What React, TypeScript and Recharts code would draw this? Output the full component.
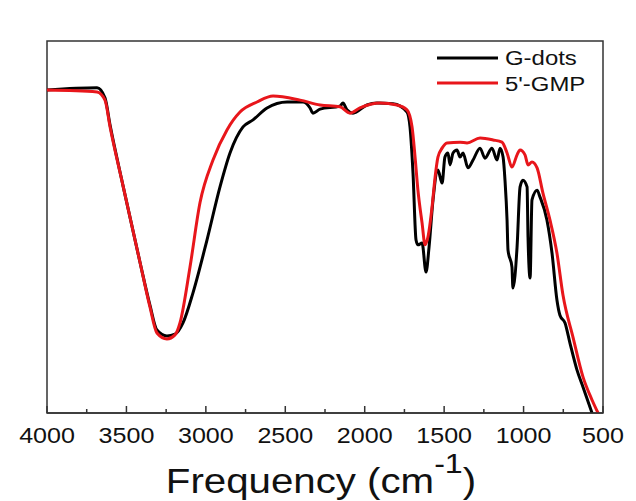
import { LineChart, Line, XAxis, YAxis, Legend, ReferenceArea } from 'recharts'

const FONT = '"Liberation Sans", Arial, Helvetica, sans-serif'

// wavenumber (cm-1) and transmittance (a.u.)
const gdotsFreq = [4000, 3685, 3635, 3603, 3522, 3415, 3352, 3308, 3245, 3194, 3144, 3081, 2993, 2911, 2848, 2766, 2703, 2615, 2489, 2389, 2344, 2326, 2281, 2156, 2137, 2112, 2074, 1986, 1923, 1822, 1734, 1715, 1696, 1677, 1665, 1639, 1614, 1595, 1570, 1539, 1513, 1495, 1476, 1463, 1444, 1419, 1400, 1381, 1350, 1318, 1274, 1243, 1199, 1167, 1148, 1129, 1117, 1104, 1098, 1073, 1067, 1041, 1022, 1004, 978, 972, 959, 947, 915, 897, 853, 821, 790, 771, 739, 708, 664, 626, 569]
const gdotsT = [86.8, 87.4, 84.7, 77.4, 61.2, 40.6, 29.0, 22.3, 20.7, 21.2, 24.2, 32.3, 46.5, 60.8, 69.9, 76.9, 78.8, 82.0, 83.6, 83.6, 82.0, 80.6, 81.7, 82.5, 83.3, 81.5, 80.6, 82.8, 83.3, 83.1, 80.9, 76.9, 64.5, 46.5, 45.2, 45.7, 37.9, 44.6, 57.3, 65.3, 61.8, 68.8, 69.9, 66.7, 69.9, 70.7, 68.8, 69.9, 65.9, 68.0, 71.2, 68.5, 71.2, 68.0, 71.2, 68.8, 62.6, 51.9, 43.8, 39.2, 33.6, 44.6, 60.8, 62.6, 60.8, 47.3, 36.3, 57.3, 59.9, 58.1, 51.9, 43.0, 30.4, 26.3, 24.2, 18.8, 11.6, 7.0, 0]

const gmpFreq = [4000, 3685, 3635, 3603, 3522, 3415, 3352, 3308, 3245, 3194, 3163, 3100, 3037, 2955, 2867, 2785, 2678, 2577, 2407, 2281, 2156, 2093, 2030, 1904, 1797, 1734, 1702, 1683, 1665, 1639, 1620, 1602, 1576, 1557, 1539, 1513, 1482, 1400, 1356, 1274, 1192, 1136, 1104, 1073, 1041, 1022, 991, 972, 947, 915, 878, 834, 790, 752, 689, 626, 569, 531]
const gmpT = [86.8, 86.3, 84.1, 76.9, 61.2, 40.6, 28.5, 21.5, 19.9, 21.0, 24.2, 39.2, 56.5, 68.0, 76.1, 80.9, 83.6, 85.2, 84.1, 82.8, 82.3, 80.6, 82.0, 83.3, 82.8, 81.5, 76.9, 68.8, 59.9, 51.1, 45.2, 47.3, 55.4, 63.4, 68.8, 71.2, 72.6, 72.8, 72.6, 73.9, 73.4, 72.8, 69.9, 66.1, 69.4, 70.7, 69.4, 66.7, 67.5, 65.9, 59.1, 51.9, 43.0, 31.7, 20.4, 9.7, 3.5, 0]

const freqTicks = [4000, 3750, 3500, 3250, 3000, 2750, 2500, 2250, 2000, 1750, 1500, 1250, 1000, 750, 500]

const seriesNames = ['G-dots', "5'-GMP"]
const seriesColors = ['#000000', '#e8161b']

const gdots = gdotsFreq.map((f, i) => ({ f, t: gdotsT[i] }))
const gmp = gmpFreq.map((f, i) => ({ f, t: gmpT[i] }))

const FreqTick = (props: any) => {
  const { x, y, payload } = props
  const major = payload.value % 500 === 0
  return (
    <g>
      <line x1={x} x2={x} y1={y} y2={y - (major ? 7 : 4)} stroke="#333" strokeWidth={1.5} />
      {major && (
        <text
          transform={`translate(${x},${y + 30}) scale(1.14,1)`}
          textAnchor="middle"
          fontSize={22}
          fontFamily={FONT}
          fill="#111"
        >
          {payload.value}
        </text>
      )}
    </g>
  )
}

const AxisTitle = (props: any) => {
  const { viewBox } = props
  const cx = viewBox.x + viewBox.width / 2 - 4
  const y = viewBox.y + 80
  return (
    <text transform={`translate(${cx},${y}) scale(1.15,1)`} textAnchor="middle" fontFamily={FONT} fill="#111" fontSize={35}>
      Frequency (cm
      <tspan fontSize={28} dy={-20}>-1</tspan>
      <tspan fontSize={35} dy={20}>)</tspan>
    </text>
  )
}

const LegendBox = () => (
  <svg width={170} height={60}>
    {seriesNames.map((name, i) => (
      <g key={name}>
        <line x1={0} x2={61} y1={17 + i * 25} y2={17 + i * 25} stroke={seriesColors[i]} strokeWidth={3} />
        <text
          transform={`translate(68,${24 + i * 26}) scale(1.14,1)`}
          fontSize={21}
          fontFamily={FONT}
          fill="#111"
        >
          {name}
        </text>
      </g>
    ))}
  </svg>
)

export default function App() {
  return (
    <div style={{ position: 'absolute', left: 0, top: 0, width: 636, height: 501, background: '#fff' }}>
      <LineChart width={636} height={501} margin={{ top: 41, right: 33, left: 47, bottom: 0 }}>
        <XAxis
          dataKey="f"
          type="number"
          domain={[500, 4000]}
          reversed
          ticks={freqTicks}
          interval={0}
          allowDataOverflow
          height={88}
          tickSize={0}
          tickMargin={0}
          tickLine={false}
          tick={<FreqTick />}
          axisLine={{ stroke: '#333', strokeWidth: 1.5 }}
          label={<AxisTitle />}
        />
        <YAxis type="number" domain={[0, 100]} allowDataOverflow hide />
        <ReferenceArea x1={4000} x2={500} y1={0} y2={100} fill="none" stroke="#333" strokeWidth={1.5} />
        <Line data={gdots} dataKey="t" name={seriesNames[0]} type="monotone" stroke={seriesColors[0]} strokeWidth={3} dot={false} isAnimationActive={false} />
        <Line data={gmp} dataKey="t" name={seriesNames[1]} type="monotone" stroke={seriesColors[1]} strokeWidth={3} dot={false} isAnimationActive={false} />
        <Legend
          layout="vertical"
          align="center"
          verticalAlign="middle"
          content={<LegendBox />}
          wrapperStyle={{ position: 'absolute', left: 437, top: 41, width: 170 }}
        />
      </LineChart>
    </div>
  )
}
